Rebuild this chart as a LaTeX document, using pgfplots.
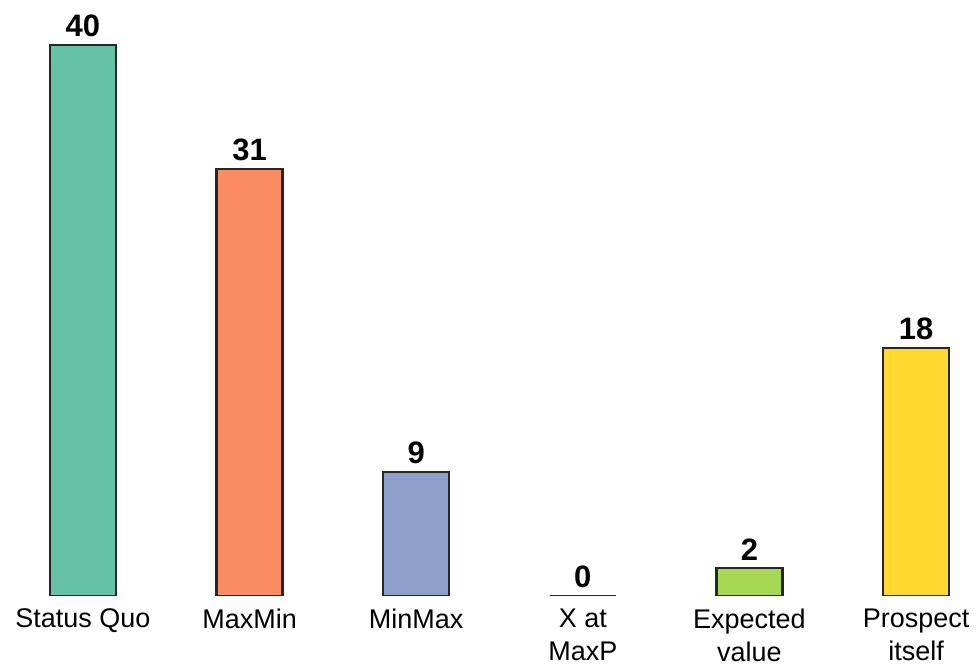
\documentclass[border=0pt]{standalone}
\usepackage{pgfplots}
\pgfplotsset{compat=1.18}
\usepackage{fontspec}
\setmainfont{Liberation Sans}

\definecolor{cA}{HTML}{66C2A5}
\definecolor{cB}{HTML}{FC8D62}
\definecolor{cC}{HTML}{8DA0CB}
\definecolor{cD}{HTML}{E78AC3}
\definecolor{cE}{HTML}{A6D854}
\definecolor{cF}{HTML}{FFD92F}

\begin{document}
\begin{tikzpicture}
\begin{axis}[
    scale only axis,
    width=488pt, height=298pt,
    xmin=-0.4976, xmax=5.354,
    ymin=0, ymax=43.25,
    ybar, bar width=33pt, bar shift=0pt,
    axis line style={draw=none},
    ymajorticks=false,
    major tick length=0pt,
    xtick={0,1,2,3,4,5},
    xticklabels={Status Quo, MaxMin, MinMax, {X at\\MaxP}, {Expected\\value}, {Prospect\\itself}},
    xticklabel style={align=center, font=\fontsize{13.5}{16.5}\selectfont, yshift=-3pt},
    /pgf/number format/assume math mode=true,
    nodes near coords,
    every node near coord/.append style={font=\bfseries\fontsize{15.5}{18}\selectfont, text=black},
    every axis plot/.append style={draw=black!85, line width=1.1pt},
]
  \addplot[fill=cA] coordinates {(0,40)};
  \addplot[fill=cB] coordinates {(1,31)};
  \addplot[fill=cC] coordinates {(2,9)};
  \addplot[fill=cD] coordinates {(3,0)};
  \addplot[fill=cE] coordinates {(4,2)};
  \addplot[fill=cF] coordinates {(5,18)};
\end{axis}
\end{tikzpicture}
\end{document}
